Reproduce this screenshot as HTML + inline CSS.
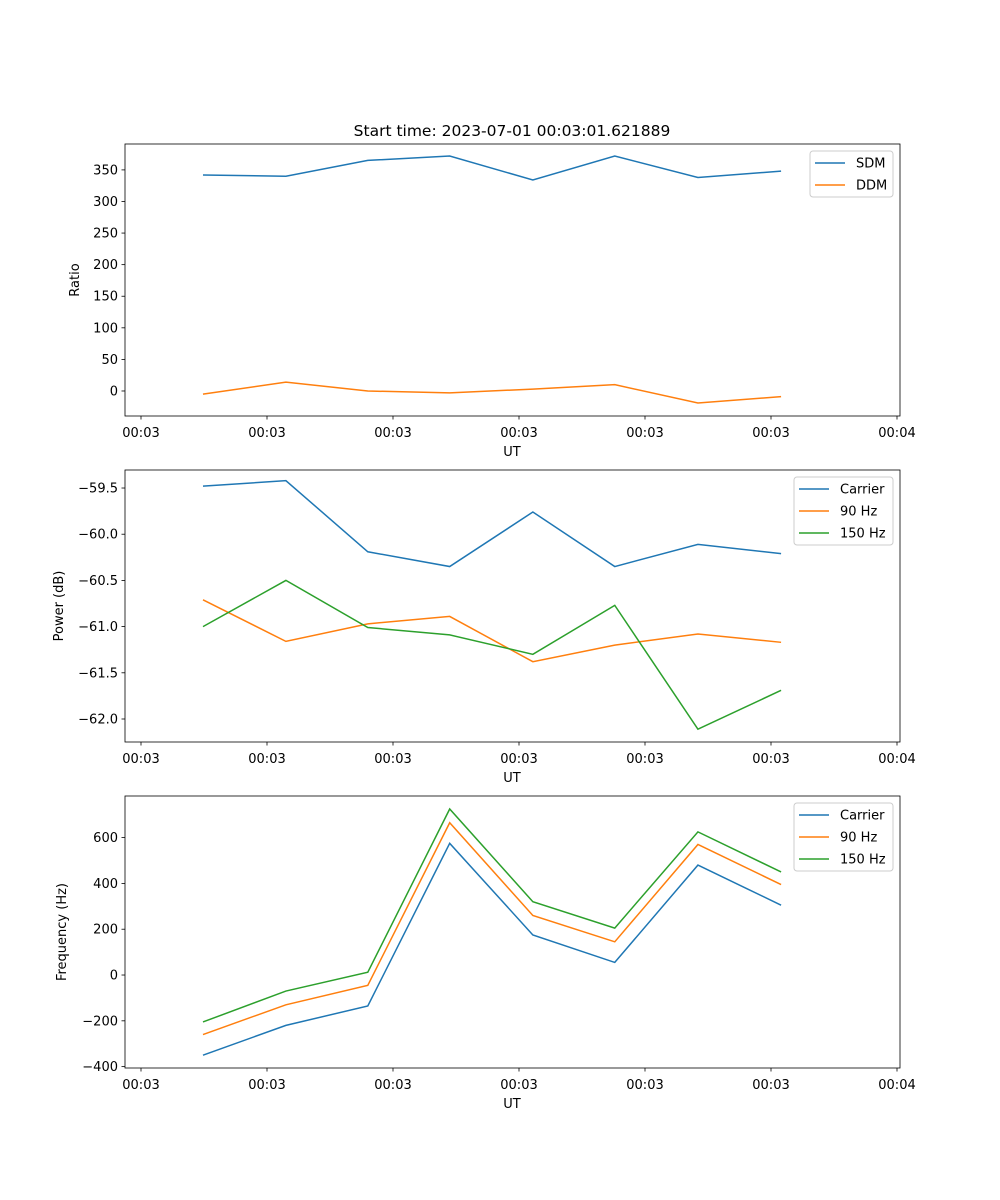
<!DOCTYPE html>
<html><head><meta charset="utf-8"><style>
body{margin:0;background:#fff}
svg{display:block;font-family:"DejaVu Sans","Liberation Sans",sans-serif}
</style></head><body>
<svg id="chart" width="1000" height="1200"></svg>
<script>
const tickSecs=[0,10,20,30,40,50,60];
const tickLabels=["00:03","00:03","00:03","00:03","00:03","00:03","00:04"];
const times=[4.92,11.5,18.0,24.5,31.1,37.6,44.2,50.8];
const sdm=[342,340,365,372,334,372,338,348];
const ddm=[-5,14,0,-3,3,10,-19,-9];
const pwrCarrier=[-59.48,-59.42,-60.19,-60.35,-59.76,-60.35,-60.11,-60.21];
const pwr90=[-60.71,-61.16,-60.97,-60.89,-61.38,-61.20,-61.08,-61.17];
const pwr150=[-61.00,-60.50,-61.01,-61.09,-61.30,-60.77,-62.11,-61.69];
const frqCarrier=[-350,-220,-135,575,175,55,480,305];
const frq90=[-260,-130,-45,665,260,145,570,395];
const frq150=[-205,-70,12,725,320,205,625,450];
const yt1=[0,50,100,150,200,250,300,350];
const yt2=[-62,-61.5,-61,-60.5,-60,-59.5];
const yt2l=["\u221262.0","\u221261.5","\u221261.0","\u221260.5","\u221260.0","\u221259.5"];
const yt3=[-400,-200,0,200,400,600];
const ns="http://www.w3.org/2000/svg";
const svg=document.getElementById('chart');
function el(tag,attrs,parent,text){const e=document.createElementNS(ns,tag);for(const k in attrs)e.setAttribute(k,attrs[k]);if(text!==undefined)e.textContent=text;(parent||svg).appendChild(e);return e;}
const L=125,R=900;
const xs=t=>141+t*12.6;
const C={b:'#1f77b4',o:'#ff7f0e',g:'#2ca02c'};
function panel(name,top,bot,ymin,ymax,yticks,ylabels,ytitle,series,legend,lx){
  const g=el('g',{});
  
  
  const ys=v=>bot-(v-ymin)/(ymax-ymin)*(bot-top);
  series.forEach(s=>{
    const p=el('polyline',{points:s.v.map((v,i)=>xs(times[i])+','+ys(v)).join(' '),fill:'none',stroke:s.c,'stroke-width':1.5},g);
    
    
  });
  el('rect',{x:L,y:top,width:R-L,height:bot-top,fill:'none',stroke:'#000','stroke-width':0.8},g);
  tickSecs.forEach((t,i)=>{const x=xs(t);el('line',{x1:x,x2:x,y1:bot,y2:bot+3.5,stroke:'#000','stroke-width':0.8},g);
    const tl=el('text',{x:x,y:bot+21,'font-size':13,'text-anchor':'middle'},g,tickLabels[i]);
    
    });
  yticks.forEach((v,i)=>{const y=ys(v);el('line',{x1:L-3.5,x2:L,y1:y,y2:y,stroke:'#000','stroke-width':0.8},g);
    const tl=el('text',{x:L-7,y:y+4.5,'font-size':13,'text-anchor':'end'},g,ylabels[i]);
    
    });
  const xt=el('text',{x:512,y:bot+40,'font-size':13,'text-anchor':'middle'},g,'UT');
  
  
  const yy=(top+bot)/2;
  const yt=el('text',{x:lx,y:yy,'font-size':13,'text-anchor':'middle',transform:'rotate(-90 '+lx+' '+yy+')'},g,ytitle);
  
  
  const lg=el('g',{},g);
  
  
  const lw=legend.w, lxl=R-7-lw;
  el('rect',{x:lxl,y:top+7,width:lw,height:series.length*22+2,rx:3,fill:'#fff',stroke:'#ccc','stroke-width':1},lg);
  series.forEach((s,i)=>{const y=top+19+i*22;
    el('line',{x1:lxl+5,x2:lxl+35,y1:y,y2:y,stroke:s.c,'stroke-width':1.5},lg);
    const t=el('text',{x:lxl+46,y:y+4.5,'font-size':13},lg,s.n);
    
    });
}
const tt=el('text',{x:512,y:136,'font-size':15.5,'text-anchor':'middle'},svg,'Start time: 2023-07-01 00:03:01.621889');


panel('ratio-panel',144,416,-39.6,391,yt1,yt1.map(String),'Ratio',[{n:'SDM',v:sdm,c:C.b},{n:'DDM',v:ddm,c:C.o}],{w:83},79);
panel('power-panel',470,742,-62.249,-59.305,yt2,yt2l,'Power (dB)',[{n:'Carrier',v:pwrCarrier,c:C.b},{n:'90 Hz',v:pwr90,c:C.o},{n:'150 Hz',v:pwr150,c:C.g}],{w:99},63);
panel('frequency-panel',796,1068,-406,781.7,yt3,yt3.map(v=>v<0?'\u2212'+(-v):String(v)),'Frequency (Hz)',[{n:'Carrier',v:frqCarrier,c:C.b},{n:'90 Hz',v:frq90,c:C.o},{n:'150 Hz',v:frq150,c:C.g}],{w:99},66);
</script>
</body></html>
